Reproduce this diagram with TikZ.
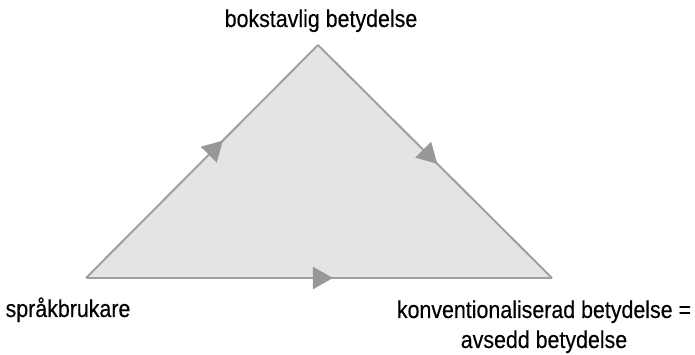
\documentclass[tikz,border=0pt]{standalone}
\usepackage{fontspec}
\setmainfont{Liberation Sans}[FakeStretch=0.88, FakeBold=0.3]
\usepackage{tikz}
\usetikzlibrary{arrows.meta, decorations.markings}
\definecolor{grisLinha}{RGB}{160,160,160}
\definecolor{grisSeta}{RGB}{152,152,152}
\definecolor{grisFundo}{RGB}{228,228,228}

\begin{document}
\begin{tikzpicture}[
    x=1pt, y=1pt,
    labeltext/.style={inner sep=0pt, anchor=base, align=center, font=\fontsize{24.3}{30}\selectfont},
    edge/.style={draw=grisLinha, line width=2pt, line join=miter},
    midarrow/.style={postaction={decorate, decoration={markings,
        mark=at position #1 with {\arrow{Triangle[length=20pt, width=22pt, color=grisSeta]}}}}}
]
    \useasboundingbox (0,0) rectangle (695,355);

    \coordinate (user) at (86,77);
    \coordinate (literal) at (318,310);
    \coordinate (conv) at (552,77);

    \fill[grisFundo] (user) -- (literal) -- (conv) -- cycle;
    \draw[edge, midarrow=0.59] (user) -- (literal);
    \draw[edge, midarrow=0.51] (literal) -- (conv);
    \draw[edge, midarrow=0.53] (user) -- (conv);

    \node[labeltext] (tl) at (321,328) {bokstavlig betydelse};
    \node[labeltext] (ul) at (68,38) {språkbrukare};
    \node[labeltext] (cl) at (544,7) {konventionaliserad betydelse =\\avsedd betydelse};
\end{tikzpicture}
\end{document}
